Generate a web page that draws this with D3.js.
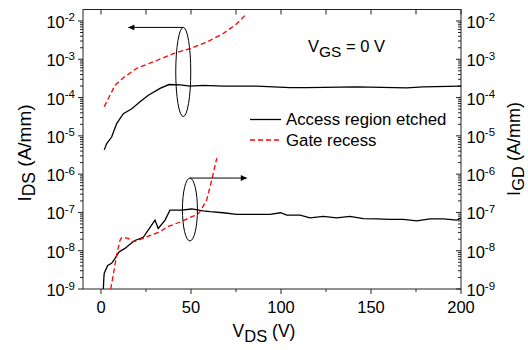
<!DOCTYPE html>
<html>
<head>
<meta charset="utf-8">
<script src="https://cdn.jsdelivr.net/npm/d3@7"></script>
<style>
  body { margin: 0; background: #fff; }
  svg { display: block; font-family: "Liberation Sans", Arial, sans-serif; }
</style>
</head>
<body>
<svg id="chart" width="528" height="350"></svg>
<script>
// upper curves : I_DS (left axis)
var vdsEtchedUp = [1.8, 3.2, 5.9, 8.7, 12.4, 17.1, 21.7, 26.3, 32.8, 37.8, 44, 49.4, 56.8, 67.9, 86.5, 105, 114.3, 142, 169.8, 179, 200];
var idsEtched = [4.3e-6, 6.3e-6, 9.3e-6, 2.1e-5, 3.8e-5, 5.1e-5, 7.8e-5, 1.15e-4, 1.74e-4, 2.19e-4, 2.14e-4, 2.0e-4, 2.09e-4, 2.0e-4, 2.0e-4, 1.82e-4, 1.82e-4, 1.9e-4, 1.78e-4, 1.9e-4, 2.0e-4];

var vdsRecessUp = [1.8, 5, 7.8, 12.4, 19.8, 30.9, 40.2, 49.4, 58.7, 67.9, 75.4, 80];
var idsRecess = [5.8e-5, 1.15e-4, 2.1e-4, 3.3e-4, 5.8e-4, 9.3e-4, 1.4e-3, 1.9e-3, 2.8e-3, 4.7e-3, 8.5e-3, 1.4e-2];

// lower curves : I_GD (right axis)
var vdsEtchedLow = [1.3, 1.6, 1.8, 3.7, 5.9, 7.8, 10, 13.3, 16.1, 18.5, 23.5, 26.3, 30, 31.8, 35.6, 38.3, 44.8, 50.4, 56.8, 60.6, 67.9, 75.4, 86.5, 93.9, 99.8, 103.2, 110.6, 116.1, 123.5, 130.9, 138.3, 145.7, 153.2, 160.6, 167.9, 175.4, 182.8, 190.2, 197.6, 200];
var igdEtched = [1.0e-9, 2.0e-9, 2.6e-9, 4.1e-9, 4.7e-9, 6.3e-9, 9.3e-9, 1.15e-8, 1.48e-8, 1.82e-8, 2.24e-8, 3.5e-8, 6.3e-8, 3.8e-8, 6.3e-8, 1.15e-7, 1.15e-7, 1.23e-7, 1.1e-7, 1.05e-7, 9.8e-8, 8.9e-8, 8.9e-8, 8.9e-8, 9.8e-8, 8.5e-8, 8.5e-8, 7.2e-8, 7.9e-8, 7.2e-8, 7.9e-8, 6.9e-8, 6.8e-8, 6.6e-8, 6.6e-8, 6.0e-8, 6.8e-8, 6.8e-8, 6.3e-8, 7.1e-8];

var vdsRecessLow = [5.4, 6.8, 8.7, 10.6, 11.5, 15.2, 17.1, 19.8, 24.4, 31.8, 37.4, 44.8, 50.4, 53.2, 55, 58.7, 61.5, 64.3];
var igdRecess = [1.0e-9, 2.3e-9, 7.8e-9, 1.9e-8, 2.2e-8, 2.1e-8, 1.7e-8, 1.8e-8, 2.2e-8, 3.0e-8, 4.3e-8, 5.8e-8, 7.8e-8, 8.5e-8, 1.05e-7, 2.1e-7, 6.9e-7, 2.6e-6];

var xTicks = [0, 50, 100, 150, 200];
var yExps = [-9, -8, -7, -6, -5, -4, -3, -2];
var legendNames = ["Access region etched", "Gate recess"];

// ellipse markers: [V, Imin, Imax, arrow target V]
var markUpper = [45.7, 3.2e-5, 6.8e-3, 15.2];
var markLower = [49.4, 1.8e-8, 7.9e-7, 81];

var svg = d3.select("#chart");
var x = d3.scaleLinear().domain([-10, 200]).range([83, 461]);
var y = d3.scaleLog().domain([1e-9, Math.pow(10, -1.7)]).range([289, 9.5]);
var axisColor = "#222";

var line = d3.line()
    .x(function(d) { return x(d[0]); })
    .y(function(d) { return y(d[1]); });

function pairs(a, b) { return a.map(function(v, i) { return [v, b[i]]; }); }

// frame
var g = svg.append("g");
g.append("rect")
    .attr("x", x(-10)).attr("y", y.range()[1])
    .attr("width", x(200) - x(-10)).attr("height", y.range()[0] - y.range()[1])
    .attr("fill", "none").attr("stroke", axisColor).attr("stroke-width", 1);

// minor log ticks
var minors = [];
yExps.forEach(function(e) {
  for (var m = 2; m <= 9; m++) {
    if (m * Math.pow(10, e) <= y.domain()[1]) minors.push(m * Math.pow(10, e));
  }
});

// left axis ticks (outward)
g.selectAll(".lmaj").data(yExps).enter().append("line")
    .attr("x1", x(-10) - 5).attr("x2", x(-10))
    .attr("y1", function(d) { return y(Math.pow(10, d)); })
    .attr("y2", function(d) { return y(Math.pow(10, d)); })
    .attr("stroke", axisColor);
g.selectAll(".lmin").data(minors).enter().append("line")
    .attr("x1", x(-10) - 3).attr("x2", x(-10))
    .attr("y1", function(d) { return y(d); }).attr("y2", function(d) { return y(d); })
    .attr("stroke", axisColor);

// right axis ticks (inward)
g.selectAll(".rmaj").data(yExps).enter().append("line")
    .attr("x1", x(200) - 5).attr("x2", x(200))
    .attr("y1", function(d) { return y(Math.pow(10, d)); })
    .attr("y2", function(d) { return y(Math.pow(10, d)); })
    .attr("stroke", axisColor);
g.selectAll(".rmin").data(minors).enter().append("line")
    .attr("x1", x(200) - 3).attr("x2", x(200))
    .attr("y1", function(d) { return y(d); }).attr("y2", function(d) { return y(d); })
    .attr("stroke", axisColor);

// bottom ticks
var bottomY = y.range()[0];
g.selectAll(".bt").data(d3.range(0, 201, 25)).enter().append("line")
    .attr("x1", function(d) { return x(d); }).attr("x2", function(d) { return x(d); })
    .attr("y1", bottomY)
    .attr("y2", function(d) { return bottomY + (d % 50 === 0 ? 5 : 3); })
    .attr("stroke", axisColor);
// top ticks (inward)
var topY = y.range()[1];
g.selectAll(".tt").data(d3.range(0, 201, 25)).enter().append("line")
    .attr("x1", function(d) { return x(d); }).attr("x2", function(d) { return x(d); })
    .attr("y1", topY).attr("y2", topY + 5)
    .attr("stroke", axisColor);

// tick labels
g.selectAll(".xl").data(xTicks).enter().append("text")
    .attr("x", function(d) { return x(d); }).attr("y", bottomY + 24)
    .attr("text-anchor", "middle").attr("font-size", 16.5)
    .text(function(d) { return d; });

function powLabel(sel, anchor, xpos) {
  var t = sel.append("text")
      .attr("x", xpos)
      .attr("y", function(d) { return y(Math.pow(10, d)) + 7; })
      .attr("text-anchor", anchor).attr("font-size", 16.5);
  t.append("tspan").text("10");
  t.append("tspan").attr("dy", -6.5).attr("font-size", 11.5).text(function(d) { return "-" + (-d); });
}
powLabel(g.selectAll(".yl").data(yExps).enter(), "end", 75);
powLabel(g.selectAll(".yr").data(yExps).enter(), "start", 466.5);

// axis titles
var xt = svg.append("text").attr("x", 264).attr("y", 336.5)
    .attr("text-anchor", "middle").attr("font-size", 17.5);
xt.append("tspan").text("V");
xt.append("tspan").attr("dy", 5.5).attr("font-size", 16.5).text("DS");
xt.append("tspan").attr("dy", -5.5).text(" (V)");

var lt = svg.append("text").attr("transform", "translate(30.5,153) rotate(-90)")
    .attr("text-anchor", "middle").attr("font-size", 19);
lt.append("tspan").text("I");
lt.append("tspan").attr("dy", 4.5).attr("font-size", 17.5).text("DS");
lt.append("tspan").attr("dy", -4.5).text(" (A/mm)");

var rt = svg.append("text").attr("transform", "translate(519.5,149) rotate(-90)")
    .attr("text-anchor", "middle").attr("font-size", 18);
rt.append("tspan").text("I");
rt.append("tspan").attr("dy", 4).attr("font-size", 16.5).text("GD");
rt.append("tspan").attr("dy", -4).text(" (A/mm)");

// V_GS note
var vg = svg.append("text").attr("x", 308).attr("y", 51.7).attr("font-size", 16.5);
vg.append("tspan").text("V");
vg.append("tspan").attr("dy", 5.5).attr("font-size", 15.5).text("GS");
vg.append("tspan").attr("dy", -5.5).text(" = 0 V");

// curves
var plot = svg.append("g");
var series = [
  { d: pairs(vdsEtchedUp, idsEtched), c: "#000", dash: null },
  { d: pairs(vdsEtchedLow, igdEtched), c: "#000", dash: null },
  { d: pairs(vdsRecessUp, idsRecess), c: "#ff0000", dash: "5,3" },
  { d: pairs(vdsRecessLow, igdRecess), c: "#ff0000", dash: "5,3" }
];
plot.selectAll("path.s").data(series).enter().append("path")
    .attr("class", "s")
    .attr("d", function(s) { return line(s.d); })
    .attr("fill", "none")
    .attr("stroke", function(s) { return s.c; })
    .attr("stroke-width", 1.3)
    .attr("stroke-dasharray", function(s) { return s.dash; });

// legend
var legend = svg.append("g");
[{ c: "#000", dash: null, y: 119.5 }, { c: "#ff0000", dash: "5,3", y: 140 }].forEach(function(s, i) {
  legend.append("line").attr("x1", 250).attr("x2", 281).attr("y1", s.y).attr("y2", s.y)
      .attr("stroke", s.c).attr("stroke-width", 1.3).attr("stroke-dasharray", s.dash);
  legend.append("text").attr("x", 286).attr("y", s.y + 5.5).attr("font-size", 16.8).text(legendNames[i]);
});

// markers
svg.append("defs").append("marker")
    .attr("id", "arr").attr("viewBox", "0 0 10 10").attr("refX", 10).attr("refY", 5)
    .attr("markerWidth", 8).attr("markerHeight", 6).attr("markerUnits", "userSpaceOnUse")
    .attr("orient", "auto")
  .append("path").attr("d", "M0,0L10,5L0,10Z").attr("fill", "#000");

[markUpper, markLower].forEach(function(m) {
  var cx = x(m[0]), yTop = y(m[2]), yBot = y(m[1]);
  svg.append("ellipse").attr("cx", cx).attr("cy", (yTop + yBot) / 2)
      .attr("rx", 7.5).attr("ry", (yBot - yTop) / 2)
      .attr("fill", "none").attr("stroke", "#000").attr("stroke-width", 1);
  svg.append("line").attr("x1", cx).attr("y1", yTop).attr("x2", x(m[3])).attr("y2", yTop)
      .attr("stroke", "#000").attr("stroke-width", 1).attr("marker-end", "url(#arr)");
});
</script>
</body>
</html>
